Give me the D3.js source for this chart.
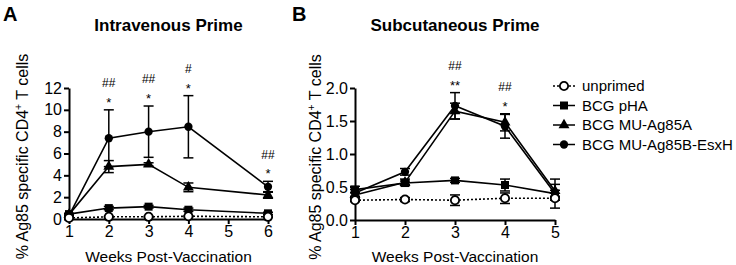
<!DOCTYPE html>
<html>
<head>
<meta charset="utf-8">
<script src="https://cdn.jsdelivr.net/npm/d3@7"></script>
<style>
  html, body { margin: 0; padding: 0; background: #fff; }
  svg { display: block; font-family: "Liberation Sans", Arial, Helvetica, sans-serif; }
</style>
</head>
<body>
<svg id="chart" width="736" height="265"></svg>
<script>
// ---------- DATA ----------
const seriesNames = ["unprimed", "BCG pHA", "BCG MU-Ag85A", "BCG MU-Ag85B-EsxH"];

// Panel A: Intravenous Prime
const weeksA = [1, 2, 3, 4, 6];
const unprimedA = [0.10, 0.20, 0.20, 0.25, 0.20];
const unprimedAErr = [0.03, 0.05, 0.05, 0.05, 0.05];
const phaA = [0.45, 1.00, 1.13, 0.85, 0.52];
const phaAErr = [0.08, 0.15, 0.12, 0.15, 0.10];
const ag85aA = [0.40, 4.80, 5.00, 2.90, 2.20];
const ag85aAErr = [0.08, 0.55, 0.15, 0.40, 0.30];
const esxhA = [0.30, 7.40, 8.00, 8.45, 2.95];
const esxhAErr = [0.05, 2.60, 2.35, 2.85, 0.50];
const xTicksA = [1, 2, 3, 4, 5, 6];
const yTicksA = [0, 2, 4, 6, 8, 10, 12];
const annWeeksA = [2, 3, 4, 6];
const annStarsA = ["*", "*", "*", "*"];
const annHashA = ["##", "##", "#", "##"];

// Panel B: Subcutaneous Prime
const weeksB = [1, 2, 3, 4, 5];
const unprimedB = [0.30, 0.31, 0.30, 0.33, 0.33];
const unprimedBErr = [0.02, 0.03, 0.08, 0.08, 0.03];
const phaB = [0.46, 0.56, 0.60, 0.53, 0.40];
const phaBErr = [0.05, 0.03, 0.03, 0.09, 0.05];
const ag85aB = [0.38, 0.57, 1.65, 1.48, 0.44];
const ag85aBErr = [0.04, 0.05, 0.12, 0.13, 0.10];
const esxhB = [0.41, 0.73, 1.73, 1.42, 0.40];
const esxhBErr = [0.05, 0.05, 0.20, 0.18, 0.22];
const xTicksB = [1, 2, 3, 4, 5];
const yTicksB = [0, 0.5, 1.0, 1.5, 2.0];
const annWeeksB = [3, 4];
const annStarsB = ["**", "*"];
const annHashB = ["##", "##"];

// ---------- DRAWING ----------
const svg = d3.select("#chart");
const markers = ["openCircle", "square", "triangle", "circle"];

function markerPath(kind) {
  if (kind === "square") return d3.symbol().type(d3.symbolSquare).size(64)();
  if (kind === "triangle") return d3.symbol().type(d3.symbolTriangle).size(52)();
  return d3.symbol().type(d3.symbolCircle).size(54)();
}

function drawPanel(cfg) {
  const g = svg.append("g");
  const x = d3.scaleLinear().domain(cfg.xDomain).range(cfg.xRange);
  const y = d3.scaleLinear().domain(cfg.yDomain).range(cfg.yRange);

  const yAxis = d3.axisLeft(y).tickValues(cfg.yTicks).tickSize(5).tickSizeOuter(0).tickPadding(2)
    .tickFormat(cfg.yFormat);
  const xAxis = d3.axisBottom(x).tickValues(cfg.xTicks).tickSize(5).tickSizeOuter(0).tickPadding(2)
    .tickFormat(d3.format("d"));

  const gx = g.append("g").attr("transform", `translate(0,${y(0)})`).call(xAxis);
  const gy = g.append("g").attr("transform", `translate(${x(cfg.xDomain[0])},0)`).call(yAxis);
  [gx, gy].forEach(a => {
    a.select(".domain").attr("stroke", "#000").attr("stroke-width", 2);
    a.selectAll(".tick line").attr("stroke", "#000").attr("stroke-width", 2);
    a.selectAll(".tick text").attr("fill", "#000").attr("font-size", 16)
      .attr("font-family", "Liberation Sans, Arial, sans-serif");
  });

  const series = cfg.series;
  series.forEach((s) => {
    const eg = g.append("g");
    s.vals.forEach((v, i) => {
      const e = s.errs[i];
      const cx = x(cfg.weeks[i]);
      eg.append("line").attr("x1", cx).attr("x2", cx).attr("y1", y(v - e)).attr("y2", y(v + e))
        .attr("stroke", "#000").attr("stroke-width", 1.5);
      [v - e, v + e].forEach(t => {
        eg.append("line").attr("x1", cx - 5).attr("x2", cx + 5).attr("y1", y(t)).attr("y2", y(t))
          .attr("stroke", "#000").attr("stroke-width", 1.5);
      });
    });
  });
  series.forEach((s, si) => {
    const line = d3.line().x((d, i) => x(cfg.weeks[i])).y(d => y(d));
    g.append("path").datum(s.vals).attr("d", line).attr("fill", "none")
      .attr("stroke", "#000").attr("stroke-width", 1.6)
      .attr("stroke-dasharray", si === 0 ? "2,2" : null);
  });
  [1, 2, 3, 0].forEach(si => {
    const s = series[si];
    s.vals.forEach((v, i) => {
      const kind = markers[si];
      g.append("path").attr("d", markerPath(kind))
        .attr("transform", `translate(${x(cfg.weeks[i])},${y(v)})`)
        .attr("fill", kind === "openCircle" ? "#fff" : "#000")
        .attr("stroke", "#000").attr("stroke-width", kind === "openCircle" ? 1.8 : 0);
    });
  });

  cfg.annWeeks.forEach((w, k) => {
    const idx = cfg.weeks.indexOf(w);
    const top = d3.max(series, s => s.vals[idx] + s.errs[idx]);
    const starC = y(top) - 10.5;
    const hashC = starC - 16.5;
    g.append("text").attr("x", x(w)).attr("y", starC + 7.5).attr("text-anchor", "middle")
      .attr("font-size", 13).text(cfg.annStars[k]);
    g.append("text").attr("x", x(w)).attr("y", hashC + 4.3).attr("text-anchor", "middle")
      .attr("font-size", 12).text(cfg.annHash[k]);
  });

  const cx = (cfg.xRange[0] + cfg.xRange[1]) / 2;
  g.append("text").attr("x", cx).attr("y", 31).attr("text-anchor", "middle")
    .attr("font-size", 17).attr("font-weight", "bold").text(cfg.title);
  g.append("text").attr("x", cfg.letterX).attr("y", 21)
    .attr("font-size", 20).attr("font-weight", "bold").text(cfg.letter);
  g.append("text").attr("x", cx).attr("y", 262).attr("text-anchor", "middle")
    .attr("font-size", 15.5).text("Weeks Post-Vaccination");
  const yt = g.append("text")
    .attr("transform", `translate(${cfg.yTitleX},${(cfg.yRange[0] + cfg.yRange[1]) / 2 + 3}) rotate(-90)`)
    .attr("text-anchor", "middle").attr("font-size", 16);
  yt.append("tspan").text("% Ag85 specific CD4");
  yt.append("tspan").attr("font-size", 10.5).attr("dy", -6).text("+");
  yt.append("tspan").attr("dy", 6).text(" T cells");
}

drawPanel({
  weeks: weeksA, xDomain: [1, 6], xRange: [69, 268], yDomain: [0, 12], yRange: [219, 88],
  xTicks: xTicksA, yTicks: yTicksA, yFormat: d3.format("d"),
  series: [
    { vals: unprimedA, errs: unprimedAErr },
    { vals: phaA, errs: phaAErr },
    { vals: ag85aA, errs: ag85aAErr },
    { vals: esxhA, errs: esxhAErr }
  ],
  annWeeks: annWeeksA, annStars: annStarsA, annHash: annHashA,
  title: "Intravenous Prime", letter: "A", letterX: 3, yTitleX: 28
});

drawPanel({
  weeks: weeksB, xDomain: [1, 5], xRange: [355, 555], yDomain: [0, 2], yRange: [220, 88],
  xTicks: xTicksB, yTicks: yTicksB, yFormat: d3.format(".1f"),
  series: [
    { vals: unprimedB, errs: unprimedBErr },
    { vals: phaB, errs: phaBErr },
    { vals: ag85aB, errs: ag85aBErr },
    { vals: esxhB, errs: esxhBErr }
  ],
  annWeeks: annWeeksB, annStars: annStarsB, annHash: annHashB,
  title: "Subcutaneous Prime", letter: "B", letterX: 292, yTitleX: 321
});

const legendY = [86, 105.5, 125, 144.5];
const lg = svg.append("g");
seriesNames.forEach((name, i) => {
  const yy = legendY[i];
  lg.append("line").attr("x1", 553).attr("x2", 575).attr("y1", yy).attr("y2", yy)
    .attr("stroke", "#000").attr("stroke-width", 1.5).attr("stroke-dasharray", i === 0 ? "2,2" : null);
  const kind = markers[i];
  lg.append("path").attr("d", markerPath(kind)).attr("transform", `translate(564,${yy})`)
    .attr("fill", kind === "openCircle" ? "#fff" : "#000")
    .attr("stroke", "#000").attr("stroke-width", kind === "openCircle" ? 1.8 : 0);
  lg.append("text").attr("x", 582).attr("y", yy + 5.3).attr("font-size", 15).text(name);
});
</script>
</body>
</html>
